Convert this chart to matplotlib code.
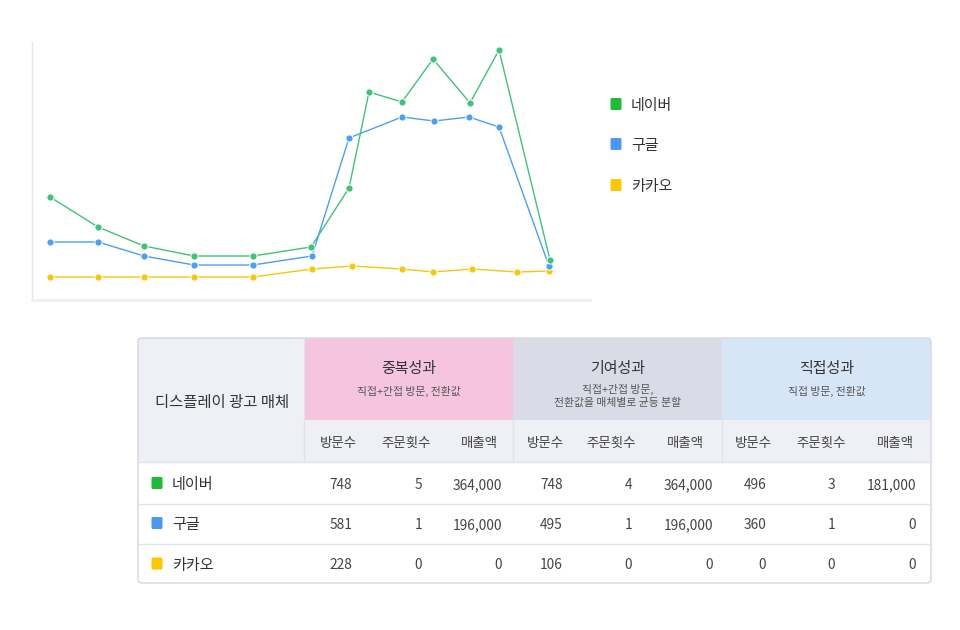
import matplotlib
matplotlib.use("Agg")
import matplotlib.pyplot as plt
from matplotlib.patches import Rectangle, FancyBboxPatch

plt.rcParams['font.family'] = ['Noto Sans CJK KR', 'DejaVu Sans']

# ---------------- data ----------------
media = ['네이버', '구글', '카카오']
legend_colors = ['#1dba3c', '#4a98f2', '#f8c800']
line_colors = ['#3ec27c', '#4b9ff5', '#f7c708']

naver_x = [0, 48, 94, 144, 203, 261, 299, 319, 352, 383, 420, 449, 500]
naver_y = [103, 73, 54, 44, 44, 53, 112, 208, 198, 241, 197, 250, 40]
google_x = [0, 48, 94, 144, 203, 262, 299, 352, 384, 419, 449, 499]
google_y = [58, 58, 44, 35, 35, 44, 162, 183, 179, 183, 173, 34]
kakao_x = [0, 48, 94, 144, 203, 262, 302, 352, 383, 422, 467, 499]
kakao_y = [23, 23, 23, 23, 23, 31, 34, 31, 28, 31, 28, 29]

first_col_title = '디스플레이 광고 매체'
group_titles = ['중복성과', '기여성과', '직접성과']
group_subtitles = ['직접+간접 방문, 전환값', '직접+간접 방문,\n전환값을 매체별로 균등 분할', '직접 방문, 전환값']
sub_headers = ['방문수', '주문횟수', '매출액']
table_values = [
    ['748', '5', '364,000', '748', '4', '364,000', '496', '3', '181,000'],
    ['581', '1', '196,000', '495', '1', '196,000', '360', '1', '0'],
    ['228', '0', '0', '106', '0', '0', '0', '0', '0'],
]

# ---------------- figure ----------------
W, H = 960, 630
fig = plt.figure(figsize=(W / 100, H / 100), dpi=100)

# line chart
ax = fig.add_axes([32 / W, (H - 300) / H, 558 / W, 258 / H])
series = [(kakao_x, kakao_y, line_colors[2]),
          (google_x, google_y, line_colors[1]),
          (naver_x, naver_y, line_colors[0])]
for xs, ys, c in series:
    ax.plot(xs, ys, color=c, lw=1.0, marker='o', ms=5.2,
            markerfacecolor=c, markeredgecolor='white', markeredgewidth=0.7)
ax.set_xlim(-18, 540)
ax.set_ylim(0, 258)
ax.set_xticks([])
ax.set_yticks([])
for s in ['top', 'right']:
    ax.spines[s].set_visible(False)
ax.spines['left'].set_color('#e4e5ec')
ax.spines['left'].set_linewidth(1.0)
ax.spines['bottom'].set_color('#eeeff4')
ax.spines['bottom'].set_linewidth(2.0)

# overlay axes in pixel coordinates
ov = fig.add_axes([0, 0, 1, 1], zorder=-1)
ov.set_xlim(0, W)
ov.set_ylim(H, 0)
ov.axis('off')

DY = 1.8  # vertical text offset for CJK font centering

# legend
leg_y = [104, 144, 185]
for name, c, yy in zip(media, legend_colors, leg_y):
    ov.add_patch(FancyBboxPatch((610.5, yy - 6), 11, 12, boxstyle='round,pad=0,rounding_size=1.5',
                                facecolor=c, edgecolor='none'))
    ov.text(631, yy + DY, name, fontsize=10.8, color='#333333', va='center', ha='left')

# table
tx0, tx1 = 138, 931
ty0, ty1 = 338, 583
col_edges = [138, 304, 513, 722, 931]
hdr_bg = '#eff0f5'
group_bg = ['#f5c4de', '#d9dbe7', '#d7e6f6']
line_c = '#e2e3ea'

ov.add_patch(Rectangle((138, 338), 166, 124, facecolor=hdr_bg, edgecolor='none'))
ov.add_patch(Rectangle((304, 420), 627, 42, facecolor=hdr_bg, edgecolor='none'))
for i in range(3):
    ov.add_patch(Rectangle((col_edges[i + 1], 338), col_edges[i + 2] - col_edges[i + 1], 82,
                           facecolor=group_bg[i], edgecolor='none'))

# lines
for yy in [462, 504, 544]:
    ov.plot([tx0, tx1], [yy, yy], color=line_c, lw=1.0)
for xx in [304, 513, 722]:
    ov.plot([xx, xx], [420, 462], color=line_c, lw=1.0)
ov.plot([304, 304], [338, 420], color='#e6e7ee', lw=0.6)

# border
ov.add_patch(FancyBboxPatch((tx0, ty0), tx1 - tx0, ty1 - ty0,
                            boxstyle='round,pad=0,rounding_size=4',
                            facecolor='none', edgecolor='#d8dae2', lw=1.1))

# header texts
ov.text(222, 401 + DY, first_col_title, fontsize=11.1, color='#333333', ha='center', va='center')
for i in range(3):
    cx = (col_edges[i + 1] + col_edges[i + 2]) / 2
    ov.text(cx, 367 + DY, group_titles[i], fontsize=10.8, color='#333333', ha='center', va='center')
    sub = group_subtitles[i]
    if '\n' in sub:
        ov.text(cx, 394 + DY, sub, fontsize=7.8, color='#555555', ha='center', va='center',
                linespacing=1.3)
    else:
        ov.text(cx, 390 + DY, sub, fontsize=7.8, color='#555555', ha='center', va='center')

hdr_cx = [338, 406, 479, 545, 611, 685, 753, 821, 895]
for j, cx in enumerate(hdr_cx):
    ov.text(cx, 441 + DY, sub_headers[j % 3], fontsize=9.7, color='#444444', ha='center', va='center')

# data rows
row_cy = [483, 523, 563.5]
val_rx = [352, 422, 502, 563, 632, 713, 766, 835, 916]
for r, name in enumerate(media):
    cy = row_cy[r]
    ov.add_patch(FancyBboxPatch((151.5, cy - 6), 11, 12, boxstyle='round,pad=0,rounding_size=1.5',
                                facecolor=legend_colors[r], edgecolor='none'))
    ov.text(172, cy + DY, name, fontsize=10.9, color='#333333', ha='left', va='center')
    for j, rx in enumerate(val_rx):
        ov.text(rx, cy + DY, table_values[r][j], fontsize=9.9, color='#444444', ha='right', va='center')

fig.savefig('out.png', dpi=100, facecolor='white')
